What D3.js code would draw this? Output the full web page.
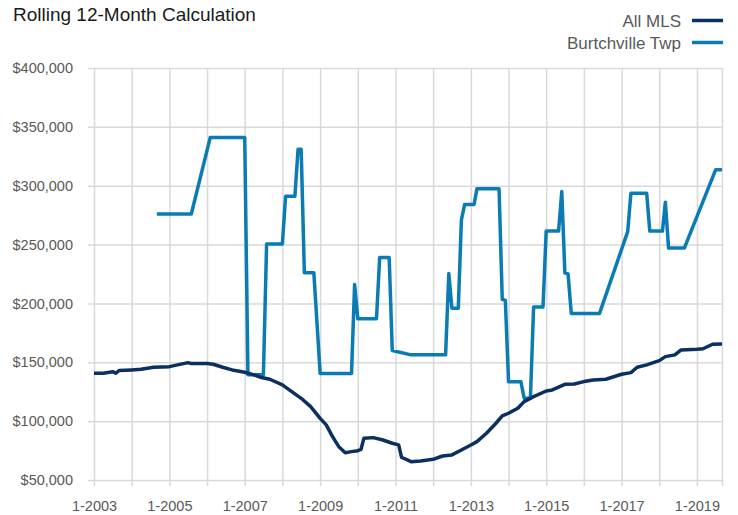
<!DOCTYPE html>
<html>
<head>
<meta charset="utf-8">
<script src="https://cdn.jsdelivr.net/npm/d3@7"></script>
<style>
  body { margin: 0; background: #fff; }
  svg { display: block; font-family: "Liberation Sans", Arial, sans-serif; }
  .grid line { stroke: #d9d9d9; stroke-width: 1.5; }
  .grid text { fill: #595959; font-size: 14.5px; }
</style>
</head>
<body>
<svg id="chart" width="738" height="515"></svg>
<script>
// y axis ticks
const yTicks = [50000, 100000, 150000, 200000, 250000, 300000, 350000, 400000];

// All MLS, rolling 12-month
const mlsMonths = ["2003-01","2003-04","2003-07","2003-08","2003-09","2004-01","2004-04","2004-08",
  "2005-01","2005-04","2005-07","2005-08","2006-01","2006-03","2006-06","2006-09",
  "2007-01","2007-04","2007-06","2007-09","2008-01","2008-03","2008-07","2008-10",
  "2009-01","2009-03","2009-05","2009-07","2009-09","2009-11","2010-01","2010-02",
  "2010-03","2010-06","2010-09","2010-12","2011-02","2011-03","2011-06","2011-09",
  "2012-01","2012-04","2012-07","2012-10","2013-01","2013-03","2013-06","2013-09",
  "2013-11","2014-01","2014-04","2014-06","2014-09","2015-01","2015-03","2015-07",
  "2015-10","2016-01","2016-04","2016-08","2017-01","2017-04","2017-06","2017-09",
  "2018-01","2018-03","2018-06","2018-08","2019-01","2019-03","2019-06","2019-09"];
const mlsValues = [140700,140700,142000,140700,143000,143500,144000,145800,
  146300,148000,149700,148900,148900,148300,145800,143500,
  141500,139300,137300,135600,130800,127000,119400,112300,
  102400,96800,86800,78300,73200,74100,74900,76100,
  85400,86000,84000,81200,79800,69300,65600,66200,
  67600,70400,71300,75500,79800,82600,89700,98200,
  104400,106700,110900,116600,120800,125600,126500,131300,
  131600,133600,135000,135600,139800,141200,145800,147800,
  151400,154800,156300,160500,161100,161500,165300,165600];

// Burtchville Twp, rolling 12-month
const btMonths = ["2004-09","2005-08","2006-02","2007-01","2007-02","2007-07","2007-08","2008-01",
  "2008-02","2008-05","2008-06","2008-07","2008-08","2008-11","2009-01","2009-11",
  "2009-12","2010-01","2010-07","2010-08","2010-11","2010-12","2011-06","2012-05",
  "2012-06","2012-07","2012-09","2012-10","2012-11","2013-02","2013-03","2013-10",
  "2013-11","2013-12","2014-01","2014-05","2014-06","2014-08","2014-09","2014-12",
  "2015-01","2015-05","2015-06","2015-07","2015-08","2015-09","2016-06","2017-03",
  "2017-04","2017-09","2017-10","2018-02","2018-03","2018-04","2018-09","2019-07","2019-09"];
const btValues = [276000,276000,341000,341000,139500,139500,250500,250500,
  291000,291000,331000,331000,226000,226000,140500,140500,
  216000,187000,187000,239000,239000,160000,156300,156300,
  225500,196000,196000,271000,284000,284000,297500,297500,
  203500,202500,133500,133500,119500,119500,197000,197000,
  261500,261500,295000,226000,225000,191500,191500,261000,
  293500,293500,261500,261500,286000,247000,247000,313500,313500];

const seriesNames = ["All MLS", "Burtchville Twp"];
const colors = ["#0b2f60", "#0a7cb3"];

let parse = d3.timeParse("%Y-%m");
let svg = d3.select("#chart");

let plotLeft = 94, plotRight = 722, plotTop = 68, plotBottom = 480;

let x = d3.scaleTime()
  .domain([parse("2003-01"), parse("2019-09")])
  .range([plotLeft, plotRight]);

let y = d3.scaleLinear()
  .domain([50000, 400000])
  .range([plotBottom, plotTop]);

// horizontal grid + labels
svg.append("g")
  .attr("class", "grid")
  .attr("transform", "translate(" + plotRight + ",0)")
  .call(d3.axisLeft(y).tickValues(yTicks).tickSize(plotRight - plotLeft + 6).tickPadding(15)
    .tickFormat(d => "$" + d3.format(",")(d)))
  .call(g => g.select(".domain").remove());

// vertical grid, one per year, plus the right edge
let years = d3.timeYear.range(parse("2003-01"), parse("2019-02"));
years.push(parse("2019-09"));
svg.append("g")
  .attr("class", "grid")
  .attr("transform", "translate(0," + plotTop + ")")
  .call(d3.axisBottom(x).tickValues(years).tickSize(plotBottom - plotTop + 6).tickPadding(15)
    .tickFormat(d => (d.getMonth() === 0 && d.getFullYear() % 2 === 1) ? "1-" + d.getFullYear() : ""))
  .call(g => g.select(".domain").remove());

let line = d3.line()
  .x(d => x(d[0]))
  .y(d => y(d[1]))
  .curve(d3.curveLinear);

let mlsData = mlsMonths.map((m, i) => [parse(m), mlsValues[i]]);
let btData = btMonths.map((m, i) => [parse(m), btValues[i]]);

svg.append("path")
  .datum(btData)
  .attr("fill", "none")
  .attr("stroke", colors[1])
  .attr("stroke-width", 3.5)
  .attr("stroke-linejoin", "round")
  .attr("d", line);

svg.append("path")
  .datum(mlsData)
  .attr("fill", "none")
  .attr("stroke", colors[0])
  .attr("stroke-width", 3.5)
  .attr("stroke-linejoin", "round")
  .attr("d", line);

// title
svg.append("text")
  .attr("x", 13)
  .attr("y", 21)
  .attr("fill", "#1a1a1a")
  .attr("font-size", "19px")
  .text("Rolling 12-Month Calculation");

// legend
let legend = svg.append("g");
seriesNames.forEach((name, i) => {
  let ly = 20.5 + i * 22;
  legend.append("line")
    .attr("x1", 692).attr("x2", 723)
    .attr("y1", ly).attr("y2", ly)
    .attr("stroke", colors[i])
    .attr("stroke-width", 3.5);
  legend.append("text")
    .attr("x", 681)
    .attr("y", ly + 6)
    .attr("text-anchor", "end")
    .attr("fill", "#595959")
    .attr("font-size", "17px")
    .text(name);
});
</script>
</body>
</html>
